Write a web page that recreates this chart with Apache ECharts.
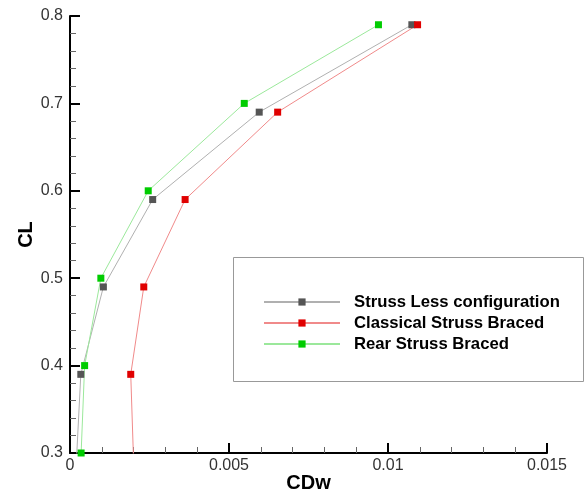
<!DOCTYPE html>
<html>
<head>
<meta charset="utf-8">
<script src="https://cdn.jsdelivr.net/npm/echarts@6/dist/echarts.min.js"></script>
<style>html,body{margin:0;padding:0;background:#fff;}#c{width:584px;height:493px;}</style>
</head>
<body>
<div id="c"></div>
<script>
// Data (CDw, CL)
const seriesNames = ['Struss Less configuration', 'Classical Struss Braced', 'Rear Struss Braced'];
const strussLessCDw = [0.00020, 0.00034, 0.00105, 0.0026, 0.00595, 0.01075];
const strussLessCL  = [0.29, 0.39, 0.49, 0.59, 0.69, 0.79];
const classicalCDw  = [0.00200, 0.00191, 0.00232, 0.00362, 0.00653, 0.01093];
const classicalCL   = [0.29, 0.39, 0.49, 0.59, 0.69, 0.79];
const rearCDw       = [0.00035, 0.00046, 0.00097, 0.00246, 0.00548, 0.0097];
const rearCL        = [0.30, 0.40, 0.50, 0.60, 0.70, 0.79];
const xTicks = [0, 0.005, 0.01, 0.015];
const yTicks = [0.3, 0.4, 0.5, 0.6, 0.7, 0.8];

const pair = (xs, ys) => xs.map((x, i) => [x, ys[i]]);
const font = 'Liberation Sans, Arial, Helvetica, sans-serif';
const chart = echarts.init(document.getElementById('c'));

function mkSeries(name, data, lineColor, markColor) {
  return {
    name: name, type: 'line', data: data, clip: true,
    symbol: 'rect', symbolSize: 7,
    lineStyle: { color: lineColor, width: 1 },
    itemStyle: { color: markColor },
    emphasis: { disabled: true },
    animation: false
  };
}

const axisCommon = {
  axisLine: { show: true, onZero: false, lineStyle: { color: '#000', width: 2 } },
  axisTick: { show: true, inside: true, length: 10, lineStyle: { color: '#000', width: 2 } },
  minorTick: { show: true, splitNumber: 5, length: 6, lineStyle: { color: '#666', width: 1 } },
  splitLine: { show: false },
  axisLabel: { color: '#333', fontSize: 16, fontFamily: font },
  nameMoveOverlap: false,
  nameTextStyle: { color: '#000', fontSize: 20, fontWeight: 'bold', fontFamily: font }
};

chart.setOption({
  backgroundColor: '#fff',
  animation: false,
  grid: { left: 70, right: 37, top: 16, bottom: 40, containLabel: false, outerBoundsMode: 'none' },
  xAxis: Object.assign({}, axisCommon, {
    type: 'value', min: xTicks[0], max: xTicks[xTicks.length - 1], interval: 0.005,
    name: 'CDw', nameLocation: 'middle', nameGap: 20,
    axisLabel: Object.assign({}, axisCommon.axisLabel, { margin: 5 })
  }),
  yAxis: Object.assign({}, axisCommon, {
    type: 'value', min: yTicks[0], max: yTicks[yTicks.length - 1], interval: 0.1,
    name: 'CL', nameLocation: 'middle', nameGap: 34,
    axisLabel: Object.assign({}, axisCommon.axisLabel, { margin: 7 })
  }),
  graphic: [{
    type: 'rect', left: 233, top: 257, z: 0,
    shape: { width: 350, height: 124 },
    style: { fill: '#fff', stroke: '#999', lineWidth: 1 }
  }],
  legend: {
    orient: 'vertical', left: 263, top: 292, padding: 0,
    itemWidth: 76, itemHeight: 9, itemGap: 1,
    selectedMode: false,
    textStyle: { color: '#000', fontSize: 16.7, fontWeight: 'bold', fontFamily: font, lineHeight: 20, padding: [0, 0, 0, 9] },
    data: seriesNames
  },
  series: [
    mkSeries(seriesNames[0], pair(strussLessCDw, strussLessCL), '#b0b0b0', '#555555'),
    mkSeries(seriesNames[1], pair(classicalCDw, classicalCL), '#f08a8a', '#e00000'),
    mkSeries(seriesNames[2], pair(rearCDw, rearCL), '#9be89b', '#00cc00')
  ]
});
</script>
</body>
</html>
